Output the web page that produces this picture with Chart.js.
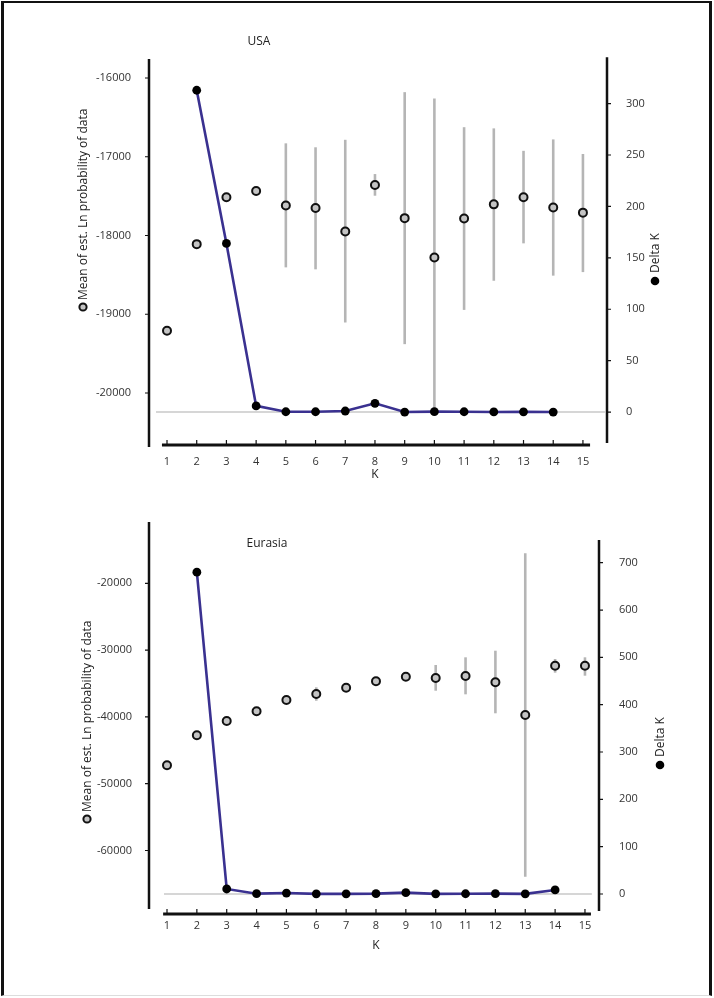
<!DOCTYPE html>
<html>
<head>
<meta charset="utf-8">
<script src="https://cdn.jsdelivr.net/npm/chart.js@4.4.1/dist/chart.umd.min.js"></script>
<style>
  body { margin: 0; background: #fff; }
  #page { position: relative; width: 714px; height: 998px; overflow: hidden; }
  #frame {
    position: absolute; left: 1px; top: 1px; width: 705px; height: 992px;
    border-left: 3px solid #111; border-top: 2px solid #111; border-right: 3px solid #111;
    border-bottom: 1px solid #ddd;
  }
  canvas { position: absolute; left: 0; }
</style>
</head>
<body>
<div id="page">
  <div id="frame"></div>
  <canvas id="usa" width="714" height="490" style="top:0"></canvas>
  <canvas id="eurasia" width="714" height="508" style="top:490px"></canvas>
</div>
<script>
// K values shared by both panels
const kValues = [1, 2, 3, 4, 5, 6, 7, 8, 9, 10, 11, 12, 13, 14, 15];

// USA
const usaMeanL = [-19210, -18110, -17515, -17435, -17620, -17650, -17950, -17360, -17780, -18280, -17785, -17605, -17515, -17645, -17710];
const usaMeanLo = [null, null, null, null, -18405, -18430, -19105, -17495, -19380, -20250, -18945, -18575, -18100, -18510, -18465];
const usaMeanHi = [null, null, null, null, -16830, -16880, -16785, -17220, -16180, -16260, -16625, -16640, -16925, -16780, -16965];
const usaDeltaK = [null, 313, 164, 6, 0.3, 0.3, 1, 8.5, 0, 0.4, 0.3, 0.1, 0.2, 0, null];
const usaLeftTicks = [-20000, -19000, -18000, -17000, -16000];
const usaRightTicks = [0, 50, 100, 150, 200, 250, 300];

// Eurasia
const euMeanL = [-47250, -42750, -40610, -39160, -37470, -36570, -35630, -34670, -33980, -34180, -33880, -34820, -39720, -32340, -32340];
const euMeanLo = [null, null, null, null, null, -37580, null, null, null, -36080, -36620, -39460, -63920, -33380, -33830];
const euMeanHi = [null, null, null, null, null, -35570, null, null, null, -32230, -31080, -30090, -15510, -31330, -31080];
const euDeltaK = [null, 680, 10.6, 0.7, 2, 0.3, 0.3, 0.7, 2.8, 0.3, 0.5, 0.7, 0.3, 8.5, null];
const euLeftTicks = [-60000, -50000, -40000, -30000, -20000];
const euRightTicks = [0, 100, 200, 300, 400, 500, 600, 700];

const FONT = "'Open Sans', 'Noto Sans', sans-serif";
const TEXT = "#333";
const LINE_BLUE = "#3a3190";
const BAR_GREY = "#b5b5b5";
const CIRCLE_FILL = "#c4c4c4";

function drawOpenMarker(ctx, x, y) {
  ctx.beginPath();
  ctx.arc(x, y, 3.6, 0, Math.PI * 2);
  ctx.fillStyle = CIRCLE_FILL;
  ctx.fill();
  ctx.lineWidth = 2;
  ctx.strokeStyle = "#111";
  ctx.stroke();
}

function drawFilledMarker(ctx, x, y) {
  ctx.beginPath();
  ctx.arc(x, y, 4.3, 0, Math.PI * 2);
  ctx.fillStyle = "#000";
  ctx.fill();
}

const decorPlugin = {
  id: "decor",
  beforeDatasetsDraw(chart, args, o) {
    const { ctx, chartArea: a, scales: { x, y, y2 } } = chart;
    ctx.save();
    // zero line of Delta K
    ctx.strokeStyle = "#c8c8c8";
    ctx.lineWidth = 1.5;
    ctx.beginPath();
    ctx.moveTo(x.getPixelForValue(o.zeroFrom), y2.getPixelForValue(0));
    ctx.lineTo(x.getPixelForValue(o.zeroTo), y2.getPixelForValue(0));
    ctx.stroke();

    // error bars
    ctx.strokeStyle = BAR_GREY;
    ctx.lineWidth = 2.6;
    o.lo.forEach((lo, i) => {
      if (lo == null) return;
      const px = x.getPixelForValue(kValues[i]);
      ctx.beginPath();
      ctx.moveTo(px, y.getPixelForValue(lo));
      ctx.lineTo(px, y.getPixelForValue(o.hi[i]));
      ctx.stroke();
    });

    // axes
    ctx.strokeStyle = "#111";
    ctx.lineWidth = 2.5;
    ctx.beginPath();
    ctx.moveTo(a.left, a.top);
    ctx.lineTo(a.left, a.bottom);
    ctx.moveTo(a.right, y2.getPixelForValue(o.rightTop));
    ctx.lineTo(a.right, y2.getPixelForValue(o.rightBottom));
    ctx.stroke();

    ctx.lineWidth = 1.2;
    ctx.beginPath();
    y.ticks.forEach(t => {
      const py = y.getPixelForValue(t.value);
      ctx.moveTo(a.left - 4, py);
      ctx.lineTo(a.left, py);
    });
    y2.ticks.forEach(t => {
      const py = y2.getPixelForValue(t.value);
      ctx.moveTo(a.right, py);
      ctx.lineTo(a.right + 4, py);
    });
    ctx.stroke();

    const xy = a.bottom + o.xLineOffset;
    ctx.lineWidth = 3.2;
    ctx.beginPath();
    ctx.moveTo(x.getPixelForValue(o.xLineFrom), xy);
    ctx.lineTo(x.getPixelForValue(o.xLineTo), xy);
    ctx.stroke();
    ctx.lineWidth = 1.2;
    ctx.beginPath();
    x.ticks.forEach(t => {
      const px = x.getPixelForValue(t.value);
      ctx.moveTo(px, xy);
      ctx.lineTo(px, xy - 5);
    });
    ctx.stroke();
    ctx.restore();
  },
  afterDraw(chart, args, o) {
    const { ctx, scales: { x } } = chart;
    ctx.save();
    ctx.fillStyle = "#222";
    ctx.font = "12px " + FONT;
    ctx.textBaseline = "middle";
    ctx.textAlign = "center";
    ctx.fillText(o.title, o.titleX, o.titleY);
    ctx.fillText("K", x.getPixelForValue(8), o.kTitleY);

    // left axis title with open marker
    ctx.textAlign = "left";
    ctx.translate(o.leftTitleX, o.leftMarkerY);
    ctx.rotate(-Math.PI / 2);
    drawOpenMarker(ctx, 0, 0);
    ctx.fillStyle = "#222";
    ctx.fillText("Mean of est. Ln probability of data", 7, 0.5);
    ctx.setTransform(1, 0, 0, 1, 0, 0);

    // right axis title with filled marker
    ctx.translate(o.rightTitleX, o.rightMarkerY);
    ctx.rotate(-Math.PI / 2);
    drawFilledMarker(ctx, 0, 0);
    ctx.fillStyle = "#222";
    ctx.fillText("Delta K", 8, 0.5);
    ctx.restore();
  }
};

function fixedTicks(values) {
  return scale => { scale.ticks = values.map(v => ({ value: v })); };
}

function makePanel(id, p) {
  const ctx = document.getElementById(id).getContext("2d");
  const h = ctx.canvas.height;
  return new Chart(ctx, {
    type: "line",
    data: {
      datasets: [
        {
          label: "Delta K",
          data: kValues.map((k, i) => ({ x: k, y: p.deltaK[i] })),
          yAxisID: "y2",
          borderColor: LINE_BLUE,
          borderWidth: 2.6,
          pointRadius: 4.4,
          pointBackgroundColor: "#000",
          pointBorderWidth: 0,
          spanGaps: false,
          tension: 0,
          order: 1
        },
        {
          label: "Mean L",
          data: kValues.map((k, i) => ({ x: k, y: p.meanL[i] })),
          yAxisID: "y",
          showLine: false,
          pointRadius: 4,
          pointBackgroundColor: CIRCLE_FILL,
          pointBorderColor: "#111",
          pointBorderWidth: 2,
          order: 2
        }
      ]
    },
    options: {
      responsive: false,
      animation: false,
      events: [],
      layout: { padding: { top: p.top, left: 0, right: 0, bottom: 0 } },
      plugins: {
        legend: { display: false },
        tooltip: { enabled: false },
        decor: p.decor
      },
      scales: {
        x: {
          type: "linear",
          min: p.xMin,
          max: p.xMax,
          grid: { display: false },
          border: { display: false },
          afterBuildTicks: fixedTicks(kValues),
          afterFit: s => { s.height = h - p.bottom; },
          ticks: { font: { family: FONT, size: 11 }, color: TEXT, padding: p.xPad, maxRotation: 0, autoSkip: false }
        },
        y: {
          position: "left",
          min: p.yMin,
          max: p.yMax,
          grid: { display: false },
          border: { display: false },
          afterBuildTicks: fixedTicks(p.leftTicks),
          afterFit: s => { s.width = p.left; },
          ticks: { font: { family: FONT, size: 11 }, color: TEXT, padding: p.yPad, callback: v => String(v) }
        },
        y2: {
          position: "right",
          min: p.y2Min,
          max: p.y2Max,
          grid: { display: false },
          border: { display: false },
          afterBuildTicks: fixedTicks(p.rightTicks),
          afterFit: s => { s.width = 714 - p.right; },
          ticks: { font: { family: FONT, size: 11 }, color: TEXT, padding: p.y2Pad, callback: v => String(v) }
        }
      }
    },
    plugins: [decorPlugin]
  });
}

makePanel("usa", {
  meanL: usaMeanL, deltaK: usaDeltaK, leftTicks: usaLeftTicks, rightTicks: usaRightTicks,
  top: 59, bottom: 447, left: 149, right: 607,
  xMin: 0.394, xMax: 15.81, yMin: -20686, yMax: -15759, y2Min: -34, y2Max: 343.4,
  xPad: 0, yPad: 10, y2Pad: 11,
  decor: {
    lo: usaMeanLo, hi: usaMeanHi,
    zeroFrom: 0.63, zeroTo: 15.74, xLineFrom: 0.83, xLineTo: 15.24, xLineOffset: -2,
    rightTop: 345, rightBottom: -30,
    title: "USA", titleX: 259, titleY: 42, kTitleY: 475,
    leftTitleX: 83, leftMarkerY: 307, rightTitleX: 655, rightMarkerY: 281
  }
});

makePanel("eurasia", {
  meanL: euMeanL, deltaK: euDeltaK, leftTicks: euLeftTicks, rightTicks: euRightTicks,
  top: 32, bottom: 419, left: 149, right: 599,
  xMin: 0.397, xMax: 15.47, yMin: -68757, yMax: -10823, y2Min: -31.7, y2Max: 786,
  xPad: 2, yPad: 9, y2Pad: 12,
  decor: {
    lo: euMeanLo, hi: euMeanHi,
    zeroFrom: 0.9, zeroTo: 15.23, xLineFrom: 0.87, xLineTo: 15.2, xLineOffset: 5,
    rightTop: 748, rightBottom: -36,
    title: "Eurasia", titleX: 267, titleY: 54, kTitleY: 456,
    leftTitleX: 87, leftMarkerY: 329, rightTitleX: 660, rightMarkerY: 275
  }
});
</script>
</body>
</html>
